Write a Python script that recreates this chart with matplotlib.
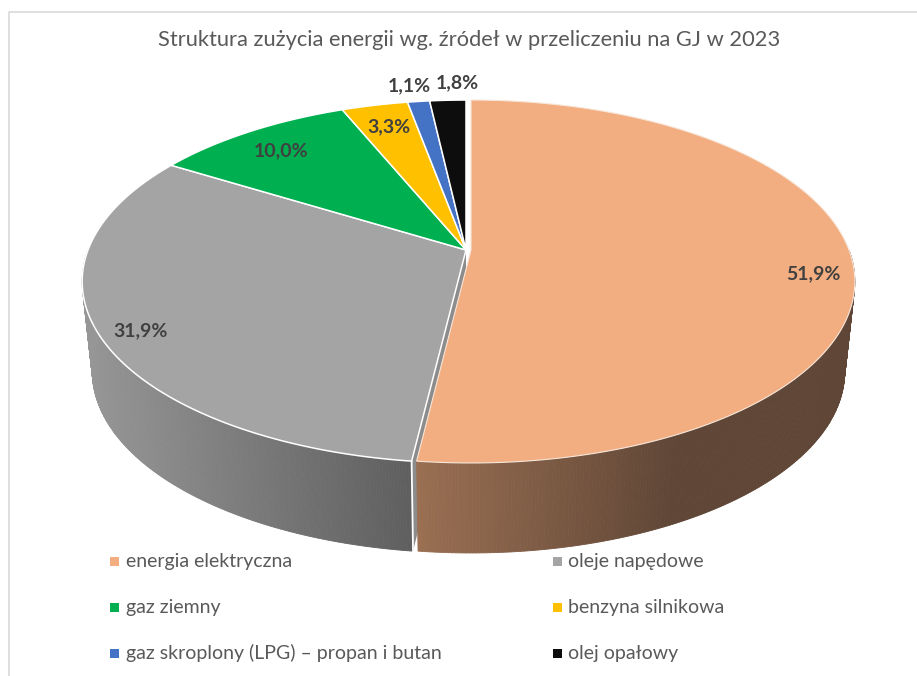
import numpy as np
import matplotlib
matplotlib.use('Agg')
import matplotlib.pyplot as plt
from matplotlib.patches import Rectangle

plt.rcParams['font.family'] = ['Lato', 'DejaVu Sans']

title = 'Struktura zużycia energii wg. źródeł w przeliczeniu na GJ w 2023'
names = ['energia elektryczna', 'oleje napędowe', 'gaz ziemny', 'benzyna silnikowa',
         'gaz skroplony (LPG) – propan i butan', 'olej opałowy']
shares = [51.9, 31.9, 10.0, 3.3, 1.1, 1.8]
colors = ['#F2AE80', '#A4A4A4', '#00B050', '#FFC000', '#4472C4', '#0D0D0D']
labels = ['51,9%', '31,9%', '10,0%', '3,3%', '1,1%', '1,8%']
label_xy = [(813, 274), (141, 331), (281, 151), (389, 127), (409, 86), (457, 83)]


def top_disc(u, v, cx):
    w = 1 + 0.1736 * v
    return cx + 378 * u / w, 250 - 176 * v / w


def low_disc(u, v, cx):
    w = 1 + 0.1736 * v
    return cx + 368 * u / w, 340 - 176 * v / w


def mix(a, b, t):
    a = np.array(matplotlib.colors.to_rgb(a))
    b = np.array(matplotlib.colors.to_rgb(b))
    return tuple(a + (b - a) * np.clip(t, 0, 1))


fig = plt.figure(figsize=(9.17, 6.76), dpi=100)
ax = fig.add_axes([0, 0, 1, 1])
ax.set_xlim(0, 917)
ax.set_ylim(676, 0)
ax.axis('off')

# chart frame, only top and left are in the crop
ax.plot([9, 9, 917], [676, 12, 12], color='#D9D9D9', lw=1.2)

edges = np.concatenate([[0], np.cumsum(shares)]) / sum(shares) * 2 * np.pi
cut = edges[1]
cx_main = 471  # the big slice sits a little apart from the rest
cx_rest = 466

# gray wall, then the cut face, then the brown wall
steps = np.linspace(cut, 3 * np.pi / 2, 220)
for s0, s1 in zip(steps[:-1], steps[1:]):
    th = np.array([s0, s1])
    xt, yt = top_disc(np.sin(th), np.cos(th), cx_rest)
    xb, yb = low_disc(np.sin(th), np.cos(th), cx_rest)
    ax.fill([xt[0], xt[1], xb[1], xb[0]], [yt[0], yt[1], yb[1], yb[0]],
            color=mix('#969696', '#5E5E5E', (xt.mean() - 85) / 330), lw=0.6)

xa, ya = top_disc(np.sin(cut), np.cos(cut), cx_rest)
xc, yc = low_disc(np.sin(cut), np.cos(cut), cx_rest)
ax.fill([cx_rest, xa, xc, cx_rest], [250, ya, yc, 340], color='#8C8C8C', lw=0)
ax.plot([xa, xc], [ya, yc], color='white', lw=1.3)

steps = np.linspace(np.pi / 2, cut, 220)
for s0, s1 in zip(steps[:-1], steps[1:]):
    th = np.array([s0, s1])
    xt, yt = top_disc(np.sin(th), np.cos(th), cx_main)
    xb, yb = low_disc(np.sin(th), np.cos(th), cx_main)
    ax.fill([xt[0], xt[1], xb[1], xb[0]], [yt[0], yt[1], yb[1], yb[0]],
            color=mix('#9A6F52', '#5F4636', (xt.mean() - 417) / 260), lw=0.6)

# top faces
for i, col in enumerate(colors):
    th = np.linspace(edges[i], edges[i + 1], 200)
    cx = cx_main if i == 0 else cx_rest
    x, y = top_disc(np.sin(th), np.cos(th), cx)
    ax.fill(np.r_[cx, x], np.r_[250, y], facecolor=col, edgecolor='#F7E6DA' if i == 0 else 'white',
            lw=0.8 if i == 0 else 1.1, joinstyle='miter')

for (x, y), lab in zip(label_xy, labels):
    ax.text(x, y, lab, fontsize=14, fontweight='bold', color='#404040', ha='center', va='center')

ax.text(469.5, 40, title, fontsize=15.75, color='#595959', ha='center', va='center')

# legend
leg_x = [110, 553]
leg_y = [561, 607, 653]
for i, (name, col) in enumerate(zip(names, colors)):
    lx = leg_x[i % 2]
    ly = leg_y[i // 2]
    ax.add_patch(Rectangle((lx, ly - 4.5), 9, 9, facecolor=col, edgecolor='none'))
    ax.text(lx + 16 - (i % 2), ly, name, fontsize=14, color='#595959', ha='left', va='center')

fig.savefig('out.png', dpi=100)
